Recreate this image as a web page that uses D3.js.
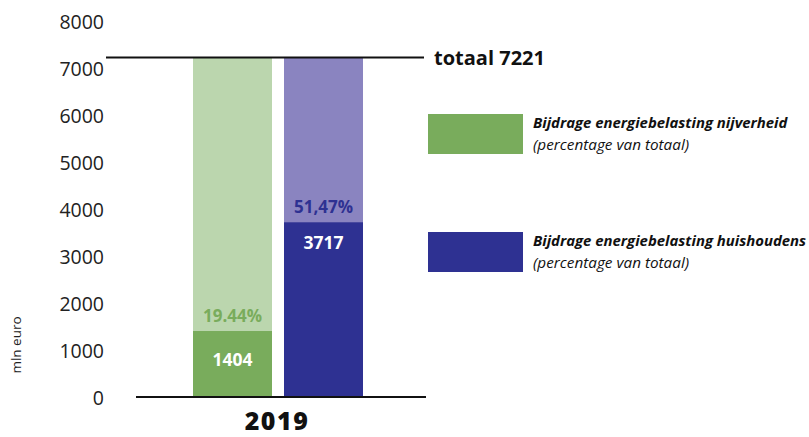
<!DOCTYPE html>
<html><head><meta charset="utf-8">
<script src="https://cdn.jsdelivr.net/npm/d3@7"></script>
<style>body{margin:0;background:#fff;} text{font-family:"Open Sans",sans-serif;}</style>
</head><body><svg id="c" width="809" height="437"></svg>
<script>
const year = "2019";
const total = 7221;
const series = ["nijverheid", "huishoudens"];
const values = [1404, 3717];
const percentLabels = ["19.44%", "51,47%"];
const legendTitles = ["Bijdrage energiebelasting nijverheid", "Bijdrage energiebelasting huishoudens"];
const legendSub = "(percentage van totaal)";
const yTicks = [0, 1000, 2000, 3000, 4000, 5000, 6000, 7000, 8000];
const darkColors = ["#79AC5C", "#2E3192"];
const lightColors = ["#BBD6AE", "#8A84C0"];
const pctColors = ["#79AC5C", "#2E3192"];

const svg = d3.select("#c");
const y = d3.scaleLinear().domain([0, 8000]).range([397, 21]);
const x = d3.scaleBand().domain(series).range([193, 363]).paddingInner(0.132).paddingOuter(0);

// y tick labels
const yAxis = d3.axisLeft(y).tickValues(yTicks).tickFormat(d3.format("d")).tickSize(0).tickPadding(0);
const ag = svg.append("g").attr("transform", "translate(104,0)").call(yAxis);
ag.select(".domain").remove();
ag.selectAll("text").attr("font-size", 19.5).attr("fill", "#222").attr("dy", "0.36em")
  .style("font-family", "'Open Sans',sans-serif");

svg.append("text").attr("transform", "translate(21,345) rotate(-90)").attr("text-anchor", "middle")
  .attr("font-size", 13.5).attr("fill", "#222").text("mln euro");

// background (total) bars
svg.selectAll("rect.bg").data(series).join("rect").attr("class", "bg")
  .attr("x", d => x(d)).attr("width", x.bandwidth())
  .attr("y", y(total)).attr("height", y(0) - y(total))
  .attr("fill", (d, i) => lightColors[i]);
// value bars
svg.selectAll("rect.val").data(series).join("rect").attr("class", "val")
  .attr("x", d => x(d)).attr("width", x.bandwidth())
  .attr("y", (d, i) => y(values[i])).attr("height", (d, i) => y(0) - y(values[i]))
  .attr("fill", (d, i) => darkColors[i]);

// value labels
svg.selectAll("text.val").data(series).join("text").attr("class", "val")
  .attr("x", d => x(d) + x.bandwidth() / 2)
  .attr("y", (d, i) => { const h = y(0) - y(values[i]); return h < 100 ? (y(values[i]) + y(0)) / 2 + 2 : y(values[i]) + 27; })
  .attr("text-anchor", "middle").attr("font-size", 17.5).attr("font-weight", 700).attr("fill", "#fff")
  .text((d, i) => values[i]);
svg.selectAll("text.pct").data(series).join("text").attr("class", "pct")
  .attr("x", d => x(d) + x.bandwidth() / 2).attr("y", (d, i) => y(values[i]) - 9)
  .attr("text-anchor", "middle").attr("font-size", 17).attr("font-weight", 700)
  .attr("fill", (d, i) => pctColors[i]).text((d, i) => percentLabels[i]);

// baseline
svg.append("line").attr("x1", 136).attr("x2", 426).attr("y1", y(0)).attr("y2", y(0))
  .attr("stroke", "#111").attr("stroke-width", 2);
// total line
svg.append("line").attr("x1", 106).attr("x2", 424).attr("y1", y(total)).attr("y2", y(total))
  .attr("stroke", "#111").attr("stroke-width", 2);
svg.append("text").attr("x", 434).attr("y", y(total) + 7).attr("font-size", 20).attr("font-weight", 700)
  .attr("fill", "#111").text("totaal " + total);

// year label
svg.append("text").attr("x", 277).attr("y", 430).attr("text-anchor", "middle")
  .attr("font-size", 25).attr("font-weight", 800).attr("letter-spacing", 1.5).attr("fill", "#111").text(year);

// legend
const lg = svg.selectAll("g.lg").data(series).join("g").attr("class", "lg")
  .attr("transform", (d, i) => `translate(428,${114 + i * 118})`);
lg.append("rect").attr("width", 95).attr("height", 40).attr("fill", (d, i) => darkColors[i]);
lg.append("text").attr("x", 105).attr("y", 14).attr("font-size", 14.9).attr("font-weight", 700)
  .attr("font-style", "italic").attr("fill", "#111").text((d, i) => legendTitles[i]);
lg.append("text").attr("x", 105).attr("y", 36).attr("font-size", 15.3).attr("font-weight", 500)
  .attr("font-style", "italic").attr("fill", "#111").text(legendSub);
</script></body></html>
